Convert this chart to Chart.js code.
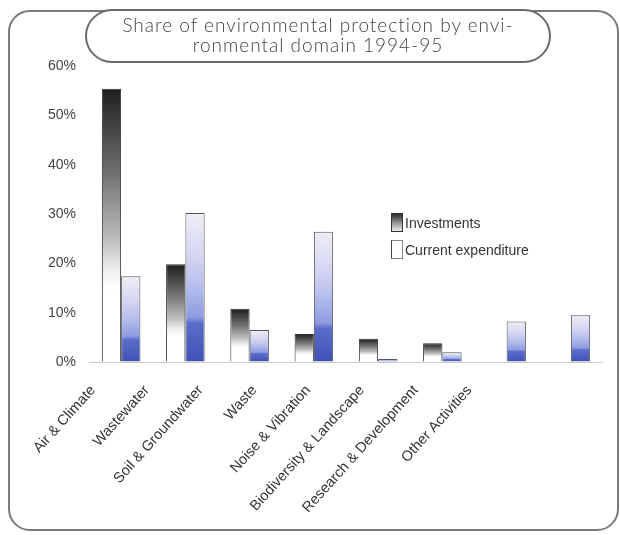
<!DOCTYPE html>
<html>
<head>
<meta charset="utf-8">
<script src="https://cdn.jsdelivr.net/npm/chart.js@4.4.0/dist/chart.umd.min.js"></script>
<style>
html,body{margin:0;padding:0;background:#fff;}
#wrap{position:relative;width:620px;height:535px;overflow:hidden;background:#fff;}
#frame{position:absolute;left:8px;top:10px;width:611px;height:521px;border:2px solid #7a7a7a;border-radius:22px;box-sizing:border-box;}
#chartBox{position:absolute;left:0;top:0;width:620px;height:535px;}
#title{position:absolute;left:85px;top:9px;width:466px;height:54px;border:2px solid #6a6a6a;border-radius:27px;box-sizing:border-box;background:#fff;
  font-family:"Lato","Open Sans",sans-serif;font-weight:300;font-size:19px;line-height:20px;color:#444;text-align:center;padding-top:4px;letter-spacing:1px;}
.leg{position:absolute;left:391px;font-family:"Liberation Sans",Arial,sans-serif;font-size:14px;color:#333;white-space:nowrap;}
.leg .box{display:inline-block;width:12px;height:19px;box-sizing:border-box;vertical-align:middle;margin-right:2px;}
</style>
</head>
<body>
<div id="wrap">
  <div id="frame"></div>
  <div id="chartBox"><canvas id="c" width="620" height="535"></canvas></div>
  <div id="title">Share of environmental protection by envi-<br>ronmental domain 1994-95</div>
  <div class="leg" style="top:213px;"><span class="box" style="border:1px solid #333;background:linear-gradient(#2a2a2a,#9a9a9a 55%,#eeeeee);"></span><span style="vertical-align:middle;">Investments</span></div>
  <div class="leg" style="top:240px;"><span class="box" style="border:1px solid #888;border-left:1px solid #444;background:#fff;"></span><span style="vertical-align:middle;">Current expenditure</span></div>
</div>
<script>
const categories = ['Air & Climate','Wastewater','Soil & Groundwater','Waste','Noise & Vibration','Biodiversity & Landscape','Research & Development','Other Activities'];
const investments = [55.4, 19.8, 10.8, 5.7, 4.7, 3.8, 0, 0];
const currentExpenditure = [17.4, 30.2, 6.5, 26.4, 0.6, 2.0, 8.2, 9.5];
const yTickValues = [0, 10, 20, 30, 40, 50, 60];
const seriesNames = ['Investments', 'Current expenditure'];

function barGradient(ctx, stops) {
  const chart = ctx.chart;
  if (!chart.chartArea || !chart.scales.y) return '#888';
  const v = ctx.raw || 0;
  const y = chart.scales.y;
  const top = y.getPixelForValue(v);
  const base = y.getPixelForValue(0);
  if (base - top < 1) return stops[stops.length - 1][1];
  const g = chart.ctx.createLinearGradient(0, top, 0, base);
  stops.forEach(s => g.addColorStop(s[0], s[1]));
  return g;
}
const invStops = [[0,'#1e1e1e'],[0.3,'#6e6e6e'],[0.55,'#bdbdbd'],[0.68,'#f4f4f4'],[0.74,'#ffffff'],[1,'#ffffff']];
const curStops = [[0,'#eeeef6'],[0.3,'#d4d4f2'],[0.5,'#b3bdec'],[0.7,'#8e9be0'],[0.74,'#5b6ecb'],[1,'#3f51b5']];

new Chart(document.getElementById('c'), {
  type: 'bar',
  data: {
    labels: categories,
    datasets: [
      { label: seriesNames[0], data: investments,
        backgroundColor: ctx => barGradient(ctx, invStops),
        borderColor: '#333', borderWidth: {top:1,left:1,right:1,bottom:0}, borderSkipped: false,
        barPercentage: 1.0, categoryPercentage: 0.6, xAxisID: 'x' },
      { label: seriesNames[1], data: currentExpenditure,
        backgroundColor: ctx => barGradient(ctx, curStops),
        borderColor: '#555', borderWidth: {top:1,left:1,right:1,bottom:0}, borderSkipped: false,
        barPercentage: 1.0, categoryPercentage: 0.6, xAxisID: 'x' }
    ]
  },
  options: {
    responsive: false,
    animation: false,
    layout: { padding: { left: 10, right: 17, top: 66, bottom: 0 } },
    plugins: { legend: { display: false }, title: { display: false }, tooltip: { enabled: false } },
    scales: {
      x: { type: 'category', display: false, offset: true },
      xl: {
        type: 'linear', position: 'bottom', min: -0.0744, max: 9.482, offset: false,
        afterBuildTicks: s => { s.ticks = categories.map((c, i) => ({ value: i })); },
        afterFit: s => { s.height = 173; },
        grid: { display: false, drawTicks: false, offset: false },
        border: { display: false },
        ticks: {
          autoSkip: false, minRotation: 48, maxRotation: 48, padding: 20,
          color: '#333', font: { family: 'Liberation Sans, Arial, sans-serif', size: 14.5 },
          callback: (v, i) => categories[i] !== undefined ? categories[i] : ''
        }
      },
      y: {
        min: 0, max: 60,
        afterBuildTicks: s => { s.ticks = yTickValues.map(v => ({ value: v })); },
        afterFit: s => { s.width = 79; },
        grid: { drawTicks: false, color: c => c.tick && c.tick.value === 0 ? '#cccccc' : 'rgba(0,0,0,0)' },
        border: { display: false },
        ticks: { padding: 13, color: '#444', font: { family: 'Liberation Sans, Arial, sans-serif', size: 14 },
          callback: v => v + '%' }
      }
    }
  }
});
</script>
</body>
</html>
